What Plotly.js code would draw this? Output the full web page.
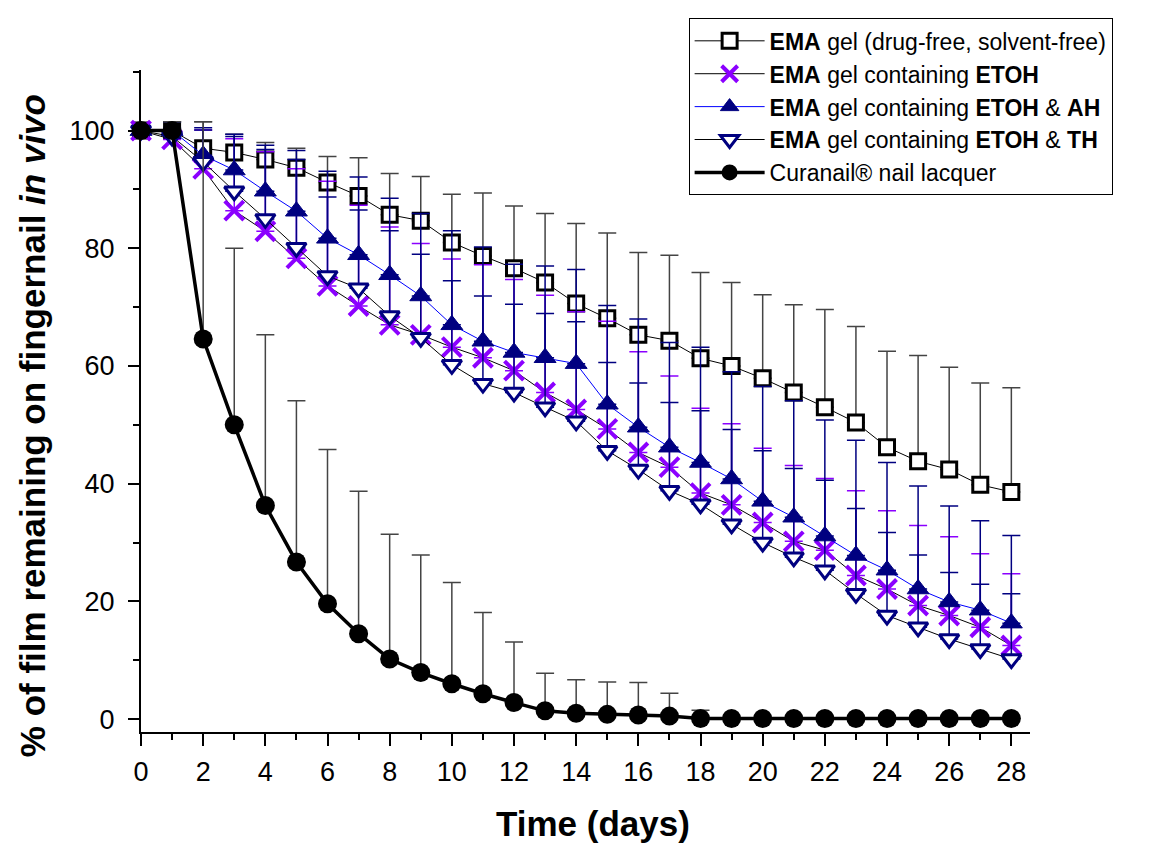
<!DOCTYPE html>
<html>
<head>
<meta charset="utf-8">
<script src="https://cdn.plot.ly/plotly-3.0.1.min.js"></script>
<style>html,body{margin:0;padding:0;background:#fff;}#chart{width:1151px;height:844px;}</style>
</head>
<body>
<div id="chart"></div>
<script>
const days = [0,1,2,3,4,5,6,7,8,9,10,11,12,13,14,15,16,17,18,19,20,21,22,23,24,25,26,27,28];

const emaFree     = [100,100,97,96.3,95.1,93.7,91.2,88.9,85.7,84.7,81,78.7,76.6,74.2,70.6,68.1,65.3,64.3,61.3,60,57.9,55.5,53,50.4,46.2,43.8,42.4,39.8,38.6];
const emaFreeErr  = [0,1.5,4.5,3.1,2.9,3.3,4.4,6.5,7,7.5,8.2,10.7,10.6,11.7,13.6,14.5,14,14.5,14.6,14.2,14.2,14.9,16.6,16.3,16.3,18,17.4,17.3,17.7];

const etoh        = [100,98.5,93.5,86.4,82.9,78.3,73.6,70.2,67,65.3,63.2,61.4,59.2,55.5,52.6,49.3,45.3,42.8,38.4,36.4,33.4,30.2,28.7,24.4,22.1,19.3,17.6,15.6,12.5];
const etohErr     = [0,1.5,6.6,12.2,13.5,15.2,17.8,17.1,16.6,15.5,15,15.8,15.5,16.5,16.6,18.3,17.1,15.5,14.4,13.8,12.6,12.9,12.2,14.4,13.3,13.6,13.4,12.5,12.2];

const etohAH      = [100,100,95.8,93.3,89.7,86.3,81.7,78.9,75.5,71.9,67,64.2,62.3,61.4,60.4,53.5,49.6,46.2,43.6,40.8,37,34.3,31.1,27.8,25.3,22.1,19.9,18.5,16.3];
const etohAHErr   = [0,1.5,4.7,6.1,7.1,10.3,11.4,13.2,13,14,16,16,15,15.6,16,16.8,18.4,17.8,19.6,18.2,19.5,19.8,19.7,19.6,18.3,17.5,16.3,15.2,14.9];

const etohTH      = [100,99,94.7,89.7,85,80.1,75.3,73.2,68.5,64.8,60.2,57,55.5,53,50.6,45.6,42.4,38.8,36.5,33.1,30,27.5,25.3,21.3,17.6,15.6,13.6,11.9,10.2];
const etohTHErr   = [0,1.5,5.4,9.3,12.5,15,13.4,13.3,14.5,14.2,14.3,14.9,15,15.9,16.9,15,14.7,15,15.9,16.1,15.6,15.1,15.3,14.5,14.1,12.3,11.3,11,11.1];

const curanail    = [100,100,64.6,50,36.3,26.7,19.6,14.5,10.2,7.9,6,4.3,2.8,1.4,1,0.8,0.7,0.5,0.1,0.1,0.1,0.1,0.1,0.1,0.1,0.1,0.1,0.1,0.1];
const curanailErr = [0,1.5,36.9,30,29,27.4,26.2,24.2,21.2,20,17.2,13.8,10.3,6.4,5.7,5.5,5.5,3.9,1.4,0,0,0,0,0,0,0,0,0,0];

const seriesNames = [
  '<b>EMA</b> gel (drug-free, solvent-free)',
  '<b>EMA</b> gel containing <b>ETOH</b>',
  '<b>EMA</b> gel containing <b>ETOH</b> &amp; <b>AH</b>',
  '<b>EMA</b> gel containing <b>ETOH</b> &amp; <b>TH</b>',
  'Curanail\u00AE nail lacquer'
];
const xTitle = '<b>Time (days)</b>';
const yTitle = '<b>% of film remaining on fingernail <i>in vivo</i></b>';

const zeros = days.map(() => 0);
function eb(arr, color) {
  return {type:'data', symmetric:false, array:arr, arrayminus:zeros, color:color, thickness:1.5, width:9};
}

const FONT = 'Liberation Sans, Arial, sans-serif';

const traces = [
  {x:days, y:emaFree, name:seriesNames[0], mode:'lines+markers', cliponaxis:false,
   line:{color:'#000', width:1},
   marker:{symbol:'square', size:15, color:'#fff', line:{color:'#000', width:3}},
   error_y: eb(emaFreeErr, '#444')},
  {x:days, y:etoh, name:seriesNames[1], mode:'lines+markers', cliponaxis:false,
   line:{color:'#000', width:1},
   marker:{symbol:'x-thin', size:19, color:'#8B00FF', line:{color:'#8B00FF', width:4}},
   error_y: eb(etohErr, '#8B00FF')},
  {x:days, y:etohAH, name:seriesNames[2], mode:'lines+markers', cliponaxis:false,
   line:{color:'#0000FF', width:1},
   marker:{symbol:'triangle-up', size:19, color:'#000080', line:{color:'#000080', width:1}},
   error_y: eb(etohAHErr, '#000080')},
  {x:days, y:etohTH, name:seriesNames[3], mode:'lines+markers', cliponaxis:false,
   line:{color:'#000', width:1},
   marker:{symbol:'triangle-down', size:17, color:'#fff', line:{color:'#000080', width:3}},
   error_y: eb(etohTHErr, '#000080')},
  {x:days, y:curanail, name:seriesNames[4], mode:'lines+markers', cliponaxis:false,
   line:{color:'#000', width:3.5},
   marker:{symbol:'circle', size:19, color:'#000', line:{color:'#000', width:0}},
   error_y: eb(curanailErr, '#444')}
];

const layout = {
  width:1151, height:844,
  margin:{l:141, r:121, t:70, b:112},
  paper_bgcolor:'#fff', plot_bgcolor:'#fff',
  font:{family:FONT, color:'#000'},
  showlegend:true,
  legend:{x:0.616, y:1.078, xanchor:'left', yanchor:'top',
          bordercolor:'#000', borderwidth:1, bgcolor:'#fff',
          font:{size:23, family:FONT, color:'#000'},
          itemwidth:70, tracegroupgap:0},
  xaxis:{range:[0,28.6], tickmode:'linear', tick0:0, dtick:2,
         showline:true, linecolor:'#000', linewidth:2, mirror:false,
         ticks:'outside', ticklen:12, tickwidth:2, tickcolor:'#000',
         minor:{dtick:1, ticks:'outside', ticklen:6, tickwidth:2, tickcolor:'#000'},
         showgrid:false, zeroline:false, ticklabelstandoff:3,
         tickfont:{size:27, family:FONT}},
  yaxis:{range:[-2.2,110.3], tickmode:'linear', tick0:0, dtick:20,
         showline:true, linecolor:'#000', linewidth:2, mirror:false,
         ticks:'outside', ticklen:11, tickwidth:2, tickcolor:'#000',
         minor:{dtick:10, ticks:'outside', ticklen:6, tickwidth:2, tickcolor:'#000'},
         showgrid:false, zeroline:false, ticklabelstandoff:8,
         tickfont:{size:27, family:FONT}},
  annotations:[
    {text:xTitle, xref:'paper', yref:'paper', x:0.5084, y:-0.1375, xanchor:'center', yanchor:'middle',
     showarrow:false, font:{size:35, family:FONT, color:'#000'}},
    {text:yTitle, xref:'paper', yref:'paper', x:-0.1226, y:0.462, xanchor:'center', yanchor:'middle',
     textangle:-90, showarrow:false, font:{size:35, family:FONT, color:'#000'}}
  ]
};

Plotly.newPlot('chart', traces, layout, {displayModeBar:false, staticPlot:true});
</script>
</body>
</html>
